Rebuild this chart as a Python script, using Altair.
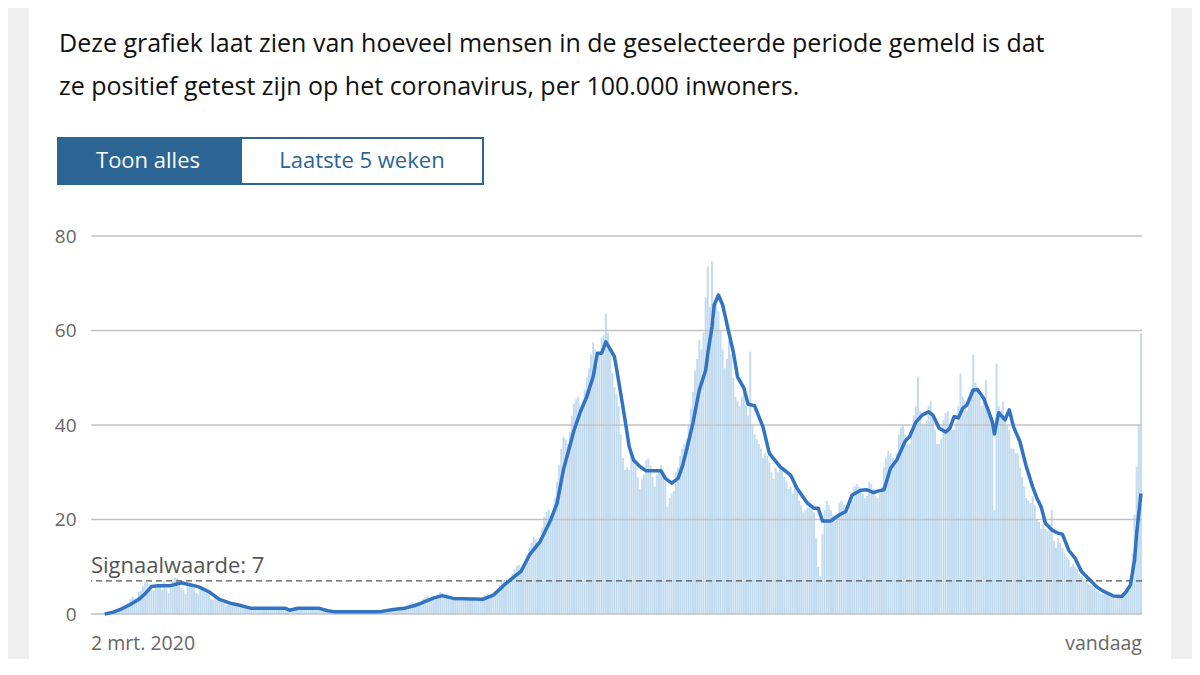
import altair as alt
import pandas as pd

# ---------------- data ----------------
# daily values per 100.000 inwoners, day 0 = 2 mrt. 2020 (one row per week)
bar_values = [
    0.0, 0.0, 0.1, 0.1, 0.1, 0.2, 0.3,
    0.3, 0.4, 0.4, 0.7, 0.9, 1.1, 1.0,
    1.6, 1.7, 2.0, 2.4, 3.1, 3.7, 3.3,
    3.1, 4.7, 4.9, 5.9, 6.7, 6.7, 6.3,
    5.1, 4.9, 5.9, 6.2, 5.9, 5.2, 7.0,
    5.5, 4.5, 5.6, 7.0, 7.7, 7.6, 6.7,
    5.5, 5.0, 4.2, 6.1, 6.6, 6.1, 5.5,
    4.4, 4.2, 5.1, 5.6, 5.3, 4.6, 4.0,
    3.2, 3.0, 3.7, 3.3, 3.0, 2.6, 2.3,
    1.8, 1.9, 2.3, 2.2, 2.0, 1.7, 1.5,
    1.4, 1.3, 1.6, 1.5, 1.3, 1.1, 1.0,
    1.0, 1.1, 1.4, 1.3, 1.2, 1.1, 1.0,
    1.1, 1.2, 1.3, 1.2, 1.3, 1.1, 1.0,
    0.7, 0.9, 1.1, 1.3, 1.2, 1.0, 0.9,
    1.0, 1.2, 1.3, 1.2, 1.1, 1.0, 0.9,
    0.8, 0.9, 0.8, 0.7, 0.6, 0.6, 0.5,
    0.4, 0.5, 0.6, 0.5, 0.5, 0.4, 0.4,
    0.4, 0.5, 0.5, 0.5, 0.6, 0.5, 0.4,
    0.4, 0.5, 0.6, 0.6, 0.5, 0.5, 0.5,
    0.5, 0.6, 0.8, 0.9, 1.0, 0.9, 0.9,
    0.9, 1.1, 1.3, 1.3, 1.5, 1.4, 1.2,
    1.4, 1.6, 2.0, 2.3, 2.5, 2.2, 2.0,
    2.3, 2.5, 3.2, 3.6, 3.9, 3.4, 3.1,
    3.3, 3.5, 4.1, 4.7, 4.4, 3.9, 3.6,
    3.2, 3.0, 3.6, 3.6, 3.4, 3.0, 2.8,
    2.8, 2.9, 3.4, 3.5, 3.4, 3.0, 2.7,
    2.9, 3.2, 3.6, 4.0, 4.3, 4.0, 3.7,
    4.2, 4.6, 5.4, 6.1, 6.8, 7.2, 6.9,
    7.0, 7.5, 8.5, 9.4, 10.2, 10.4, 10.0,
    10.3, 11.0, 12.6, 14.0, 15.1, 16.3, 15.8,
    15.0, 16.2, 18.3, 20.5, 21.6, 22.0, 21.0,
    22.0, 24.5, 28.0, 31.5, 35.0, 37.5, 37.0,
    36.0, 38.5, 42.0, 44.5, 45.5, 46.0, 44.0,
    45.0, 47.5, 50.0, 52.0, 55.0, 57.5, 56.0,
    52.5, 55.0, 58.5, 59.0, 63.6, 59.5, 56.0,
    51.0, 48.0, 46.5, 44.0, 38.0, 33.0, 30.5,
    31.0, 30.5, 34.0, 33.5, 31.5, 29.0, 26.5,
    28.5, 29.5, 32.5, 33.0, 31.5, 29.0, 27.0,
    29.5, 30.0, 31.5, 30.0, 28.0, 22.7, 24.5,
    25.5, 26.0, 30.0, 31.0, 33.5, 35.0, 36.0,
    37.0, 40.0, 43.5, 47.0, 51.5, 54.0, 58.0,
    56.0, 59.5, 67.0, 73.6, 65.0, 74.6, 62.0,
    66.0, 64.0, 60.0, 56.0, 52.0, 54.0, 58.0,
    55.0, 50.0, 46.0, 45.0, 44.0, 46.0, 47.0,
    44.0, 42.0, 55.5, 40.0, 38.0, 37.0, 36.0,
    35.0, 33.0, 34.0, 33.5, 32.0, 30.0, 28.5,
    31.0, 30.0, 31.5, 30.5, 29.0, 28.0, 26.5,
    27.0, 25.5, 27.5, 26.0, 24.0, 23.0, 21.5,
    22.0, 22.5, 24.0, 23.0, 21.5, 16.0, 10.0,
    8.0, 17.0, 22.0, 24.0, 23.0, 22.0, 21.0,
    19.5, 20.5, 23.5, 24.0, 23.0, 22.0, 21.5,
    23.0, 24.0, 27.0, 27.5, 27.0, 26.0, 25.5,
    24.5, 25.0, 28.0, 27.5, 26.5, 25.0, 24.5,
    25.5, 27.0, 31.0, 33.0, 34.5, 34.0, 33.0,
    32.0, 34.0, 38.0, 39.5, 40.0, 38.0, 36.0,
    36.0, 39.0, 42.0, 44.0, 50.2, 43.0, 40.5,
    40.0, 41.0, 44.0, 45.0, 42.0, 39.0, 36.0,
    36.0, 37.0, 41.0, 42.5, 43.0, 40.0, 39.0,
    39.0, 40.5, 44.0, 50.9, 46.0, 45.0, 43.0,
    45.0, 47.5, 54.8, 49.0, 48.0, 46.0, 44.0,
    46.0, 49.5, 44.0, 42.0, 40.0, 22.0, 53.0,
    44.0, 43.0, 45.0, 42.0, 40.0, 39.0, 35.0,
    35.0, 34.0, 34.0, 31.0, 29.0, 27.0, 24.5,
    24.0, 23.5, 25.0, 23.0, 20.0, 19.5, 18.0,
    19.0, 18.0, 17.5, 19.0, 22.0, 15.5, 14.0,
    16.0, 15.0, 14.0, 13.0, 12.0, 11.5, 10.0,
    10.5, 10.0, 9.5, 8.5, 8.0, 7.5, 7.0,
    6.5, 6.0, 6.0, 5.5, 5.0, 4.8, 4.3,
    4.3, 4.2, 4.0, 3.9, 3.7, 3.5, 3.3,
    3.5, 3.6, 3.8, 4.2, 4.6, 5.0, 7.0,
    12.8, 21.0, 31.2, 40.0, 59.4,
]

# 7-day average line, read at the days where its shape changes
line_days = [
    6, 10, 14, 18, 22, 25, 28, 31, 37, 42, 46, 50, 55, 60, 65, 69, 75,
    91, 93, 97, 107, 111, 114, 136, 141, 147, 152, 155, 161, 165, 170,
    184, 189, 195, 202, 206, 211, 216, 219, 222, 227, 230, 233, 236,
    238, 240, 242, 246, 247, 250, 251, 253, 255, 258, 261, 268, 270,
    273, 276, 278, 280, 283, 286, 289, 290, 292, 293, 295, 297, 300,
    302, 304, 307, 309, 312, 316, 319, 324, 329, 332, 337, 340, 342,
    344, 348, 352, 355, 358, 362, 365, 368, 370, 373, 376, 379, 383,
    385, 388, 391, 394, 396, 399, 402, 404, 406, 408, 410, 412, 415,
    417, 420, 422, 424, 425, 427, 430, 432, 434, 437, 440, 443, 445,
    447, 449, 452, 455, 457, 460, 463, 466, 470, 473, 476, 481, 485,
    487, 489, 491, 492, 494,
]
line_values = [
    0.0, 0.4, 1.1, 2.0, 3.1, 4.3, 5.8, 6.0, 6.0, 6.6, 6.2, 5.8, 4.7, 3.1, 2.3, 1.9, 1.2,
    1.2, 0.8, 1.2, 1.2, 0.7, 0.5, 0.5, 0.9, 1.2, 1.8, 2.3, 3.4, 3.9, 3.3,
    3.1, 4.0, 6.5, 9.0, 12.5, 15.3, 19.9, 23.4, 30.5, 38.9, 42.8, 46.0, 50.2,
    55.2, 55.2, 57.6, 54.5, 52.0, 43.9, 41.1, 35.4, 32.6, 31.2, 30.3, 30.3, 28.7,
    27.7, 28.7, 31.2, 34.7, 40.4, 47.4, 51.6, 55.2, 60.8, 65.4, 67.5, 65.4, 59.4,
    55.5, 50.2, 47.8, 44.4, 44.1, 39.6, 34.0, 31.2, 29.4, 26.6, 23.4, 22.4, 22.4,
    19.7, 19.7, 21.0, 21.7, 25.2, 26.2, 26.3, 25.7, 26.0, 26.3, 30.8, 32.6, 36.6,
    37.5, 40.6, 42.1, 42.8, 42.1, 39.3, 38.5, 39.3, 41.8, 41.5, 43.5, 44.2, 47.4,
    47.5, 45.6, 43.2, 40.7, 38.1, 42.6, 41.1, 43.2, 39.6, 36.5, 31.2, 26.9, 24.5,
    22.7, 19.2, 17.8, 17.1, 16.9, 13.5, 11.8, 9.0, 7.2, 5.8, 4.9, 3.8, 3.7,
    4.7, 6.1, 11.4, 17.1, 25.5,
]

y_ticks = [0, 20, 40, 60, 80]
signal_value = [7]
signal_label = ["Signaalwaarde: 7"]
x_label_days = [0, len(bar_values) - 1]
x_labels = ["2 mrt. 2020", "vandaag"]
intro_lines = [
    "Deze grafiek laat zien van hoeveel mensen in de geselecteerde periode gemeld is dat",
    "ze positief getest zijn op het coronavirus, per 100.000 inwoners.",
]
button_labels = ["Toon alles", "Laatste 5 weken"]

# ---------------- chart ----------------
W, H = 1051, 378
FONT = "Open Sans"
BLUE = "#3274c2"
DARK = "#2c6594"

bars_df = pd.DataFrame({"day": list(range(len(bar_values))), "value": bar_values})
line_df = pd.DataFrame({"day": line_days, "value": line_values})
grid_df = pd.DataFrame({"v": y_ticks})
sig_df = pd.DataFrame({"v": signal_value, "label": signal_label})
xl_df = pd.DataFrame({"day": x_label_days, "label": x_labels})
one = pd.DataFrame({"a": [0]})

xscale = alt.Scale(domain=[-0.5, len(bar_values) - 0.5], nice=False, zero=False)
yscale = alt.Scale(domain=[0, 80], nice=False)
yaxis = alt.Axis(values=y_ticks, title=None, grid=False, domain=False, ticks=False,
                 labelPadding=15, labelFontSize=19, labelColor="#666",
                 labelFont=FONT, zindex=1)

card = alt.Chart(one).mark_rect(color="white").encode(
    x=alt.value(-62), x2=alt.value(1080), y=alt.value(-240), y2=alt.value(440))

bars = alt.Chart(bars_df).transform_calculate(
    x0="datum.day - 0.48", x1="datum.day + 0.48", base="0"
).mark_rect(color="#c4dcf0").encode(
    x=alt.X("x0:Q", scale=xscale, axis=None),
    x2="x1:Q",
    y=alt.Y("value:Q", scale=yscale, axis=yaxis),
    y2="base:Q",
)

grid = alt.Chart(grid_df).mark_rule(color="#c2c2c2", strokeWidth=1.3).encode(
    y=alt.Y("v:Q", scale=yscale, axis=yaxis))

sig_rule = alt.Chart(sig_df).mark_rule(color="#555", strokeWidth=1.4, strokeDash=[6, 4]).encode(
    y=alt.Y("v:Q", scale=yscale, axis=yaxis))

sig_text = alt.Chart(sig_df).mark_text(
    align="left", baseline="alphabetic", dy=-8, fontSize=22, font=FONT, color="#555"
).encode(x=alt.value(0), y=alt.Y("v:Q", scale=yscale, axis=yaxis), text="label:N")

line = alt.Chart(line_df).mark_line(color=BLUE, strokeWidth=3.5, strokeJoin="round").encode(
    x=alt.X("day:Q", scale=xscale, axis=None),
    y=alt.Y("value:Q", scale=yscale, axis=yaxis),
)

xl_left = alt.Chart(xl_df).transform_filter("datum.day == 0").mark_text(
    align="left", baseline="middle", fontSize=19.5, font=FONT, color="#666", dx=-1
).encode(x=alt.X("day:Q", scale=xscale, axis=None), y=alt.value(H + 30), text="label:N")

xl_right = alt.Chart(xl_df).transform_filter("datum.day > 0").mark_text(
    align="right", baseline="middle", fontSize=19.5, font=FONT, color="#666", dx=1
).encode(x=alt.X("day:Q", scale=xscale, axis=None), y=alt.value(H + 30), text="label:N")

intro1 = alt.Chart(one).mark_text(
    align="left", baseline="alphabetic", fontSize=25, font=FONT, color="#111",
    text=intro_lines[0]).encode(x=alt.value(-32), y=alt.value(-184))
intro2 = alt.Chart(one).mark_text(
    align="left", baseline="alphabetic", fontSize=25, font=FONT, color="#111",
    text=intro_lines[1]).encode(x=alt.value(-32), y=alt.value(-141))

btn1 = alt.Chart(one).mark_rect(color=DARK).encode(
    x=alt.value(-34), x2=alt.value(149), y=alt.value(-99), y2=alt.value(-51))
btn2 = alt.Chart(one).mark_rect(fill="white", stroke=DARK, strokeWidth=2).encode(
    x=alt.value(150), x2=alt.value(392), y=alt.value(-98), y2=alt.value(-52))
btn1_t = alt.Chart(one).mark_text(
    align="center", baseline="middle", fontSize=22, font=FONT, color="white",
    text=button_labels[0]).encode(x=alt.value(57), y=alt.value(-75))
btn2_t = alt.Chart(one).mark_text(
    align="center", baseline="middle", fontSize=22, font=FONT, color=DARK,
    text=button_labels[1]).encode(x=alt.value(271), y=alt.value(-75))

chart = alt.layer(
    card, bars, grid, sig_rule, sig_text, line, xl_left, xl_right,
    intro1, intro2, btn1, btn2, btn1_t, btn2_t,
).properties(
    width=W, height=H,
    autosize=alt.AutoSizeParams(type="none"),
    padding={"left": 83, "top": 228, "right": 50, "bottom": 45},
).configure(background="#efefef").configure_view(stroke=None)

chart.save("out.html", embed_options={"renderer": "svg", "actions": False})
